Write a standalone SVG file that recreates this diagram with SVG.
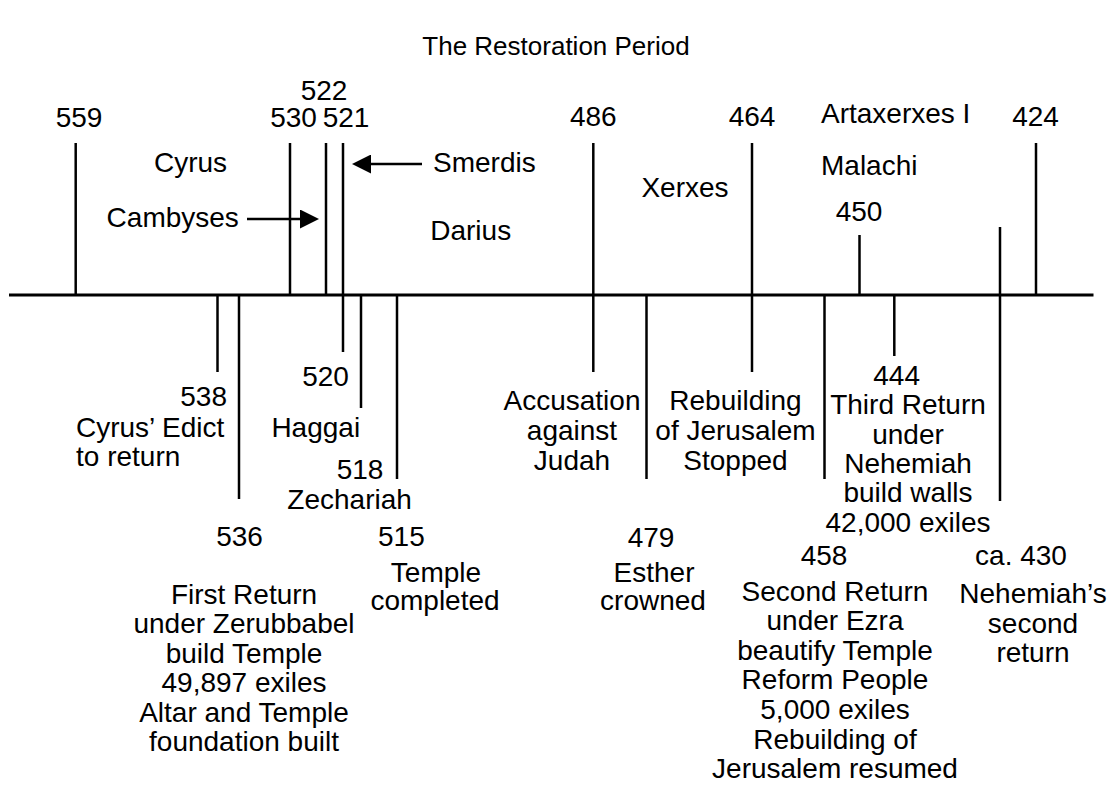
<svg xmlns="http://www.w3.org/2000/svg" width="1112" height="786" viewBox="0 0 1112 786">
<style>
text{font-family:"Liberation Sans",Arial,sans-serif;font-size:28px;fill:#000}
.m{text-anchor:middle}
.e{text-anchor:end}
.t{stroke:#000;stroke-width:2.5;fill:none}
.ax{stroke:#000;stroke-width:3;fill:none}
.title{font-size:26px}
</style>
<defs>
<marker id="ah" viewBox="0 0 19 19" refX="0" refY="9.5" markerWidth="19" markerHeight="19" markerUnits="userSpaceOnUse" orient="auto">
<path d="M0,0 L19,9.5 L0,19 Z" fill="#000"/>
</marker>
</defs>
<rect width="1112" height="786" fill="#fff"/>
<g id="title"><text class="m title" x="556" y="55">The Restoration Period</text></g>
<g id="axis"><line class="ax" x1="9" y1="295" x2="1093.5" y2="295"/></g>

<g id="e559"><line class="t" x1="75.7" y1="143" x2="75.7" y2="295"/><text class="m" x="79" y="127">559</text></g>
<g id="cyrus"><text x="154" y="172">Cyrus</text></g>
<g id="e530"><line class="t" x1="290" y1="143" x2="290" y2="295"/><text class="m" x="293.5" y="127">530</text></g>
<g id="e522"><line class="t" x1="326" y1="143" x2="326" y2="295"/><text class="m" x="324" y="100">522</text></g>
<g id="e521"><line class="t" x1="343" y1="143" x2="343" y2="352"/><text class="m" x="346" y="127">521</text></g>
<g id="cambyses"><text x="106.6" y="227">Cambyses</text></g>
<g id="smerdis"><text x="433" y="172">Smerdis</text></g>
<g id="darius"><text class="m" x="470.7" y="240">Darius</text></g>
<g id="e486"><line class="t" x1="593.3" y1="143" x2="593.3" y2="372"/><text class="m" x="593.3" y="126">486</text>
<text class="m" x="572" y="410">Accusation</text><text class="m" x="572" y="440">against</text><text class="m" x="572" y="470">Judah</text></g>
<g id="xerxes"><text class="m" x="685" y="197">Xerxes</text></g>
<g id="e464"><line class="t" x1="752" y1="143" x2="752" y2="372"/><text class="m" x="752" y="126">464</text>
<text class="m" x="735.5" y="410">Rebuilding</text><text class="m" x="735.5" y="440">of Jerusalem</text><text class="m" x="735.5" y="470">Stopped</text></g>
<g id="artaxerxes"><text x="821" y="123">Artaxerxes I</text></g>
<g id="malachi"><text x="821" y="175">Malachi</text></g>
<g id="e450"><line class="t" x1="859.5" y1="235" x2="859.5" y2="295"/><text class="m" x="859" y="221">450</text></g>
<g id="e424"><line class="t" x1="1036" y1="143" x2="1036" y2="295"/><text class="m" x="1035.5" y="126">424</text></g>

<g id="e538"><line class="t" x1="217.5" y1="295" x2="217.5" y2="372"/><text class="e" x="227" y="406">538</text>
<text x="76" y="437">Cyrus’ Edict</text><text x="76" y="466">to return</text></g>
<g id="e520"><text class="m" x="325.5" y="386">520</text><text x="271.4" y="437">Haggai</text></g>
<g id="e518"><line class="t" x1="361" y1="295" x2="361" y2="408"/><text class="m" x="360" y="479">518</text><text class="m" x="349.6" y="509">Zechariah</text></g>
<g id="e536"><line class="t" x1="239" y1="295" x2="239" y2="499"/><text class="m" x="239.5" y="546">536</text>
<text class="m" x="244" y="604">First Return</text><text class="m" x="244" y="633">under Zerubbabel</text><text class="m" x="244" y="663">build Temple</text><text class="m" x="244" y="692">49,897 exiles</text><text class="m" x="244" y="722">Altar and Temple</text><text class="m" x="244" y="751">foundation built</text></g>
<g id="e515"><line class="t" x1="397" y1="295" x2="397" y2="479"/><text class="m" x="401.4" y="546">515</text>
<text class="m" x="436" y="582">Temple</text><text class="m" x="435" y="610">completed</text></g>
<g id="e479"><line class="t" x1="646.5" y1="295" x2="646.5" y2="479"/><text class="m" x="651" y="547">479</text>
<text class="m" x="654" y="582">Esther</text><text class="m" x="653" y="610">crowned</text></g>
<g id="e458"><line class="t" x1="824.5" y1="295" x2="824.5" y2="479"/><text class="m" x="824" y="565">458</text>
<text class="m" x="835" y="601">Second Return</text><text class="m" x="835" y="630">under Ezra</text><text class="m" x="835" y="660">beautify Temple</text><text class="m" x="835" y="689">Reform People</text><text class="m" x="835" y="719">5,000 exiles</text><text class="m" x="835" y="749">Rebuilding of</text><text class="m" x="835" y="778">Jerusalem resumed</text></g>
<g id="e444"><line class="t" x1="894.3" y1="295" x2="894.3" y2="356"/><text class="m" x="896.6" y="385">444</text>
<text class="m" x="908" y="414">Third Return</text><text class="m" x="908" y="443.5">under</text><text class="m" x="908" y="473">Nehemiah</text><text class="m" x="908" y="502">build walls</text><text class="m" x="908" y="531.5">42,000 exiles</text></g>
<g id="e430"><line class="t" x1="1000" y1="227" x2="1000" y2="501"/><text class="m" x="1021" y="565">ca. 430</text>
<text class="m" x="1033" y="603">Nehemiah’s</text><text class="m" x="1033" y="633">second</text><text class="m" x="1033" y="662">return</text></g>

<g id="connectors">
<line class="t" x1="247" y1="219" x2="300" y2="219" marker-end="url(#ah)"/>
<line class="t" x1="422" y1="164" x2="371" y2="164" marker-end="url(#ah)"/>
</g>
</svg>
